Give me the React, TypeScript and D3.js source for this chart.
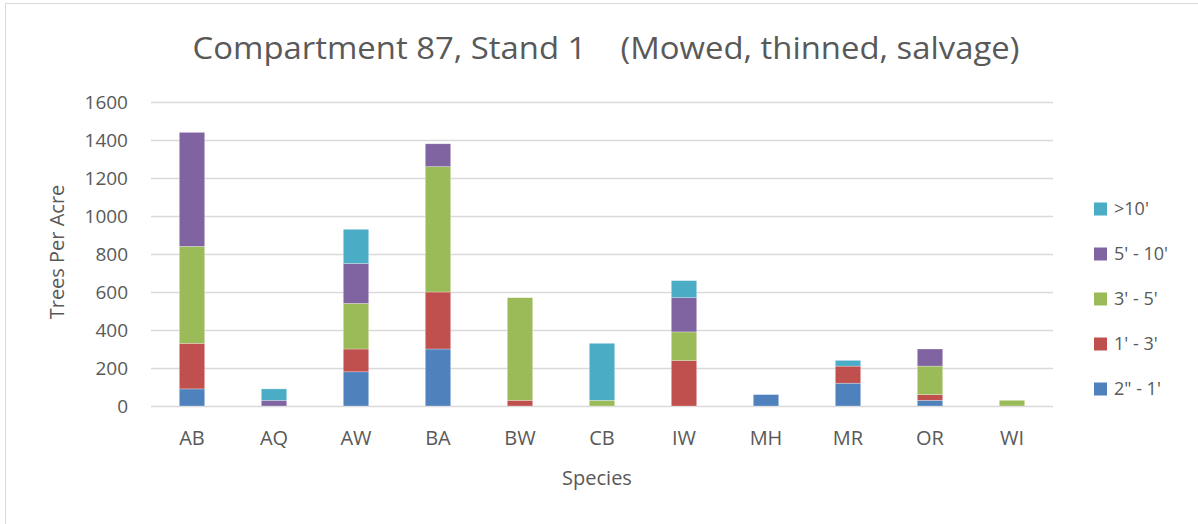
import React from 'react';
import * as d3 from 'd3';

// Species along the x axis
const species = ['AB', 'AQ', 'AW', 'BA', 'BW', 'CB', 'IW', 'MH', 'MR', 'OR', 'WI'];

// Height classes, stacked bottom to top
const classes = ['2" - 1\'', "1' - 3'", "3' - 5'", "5' - 10'", ">10'"];
const colors = ['#4F81BD', '#C0504D', '#9BBB59', '#8064A2', '#4BACC6'];

// Trees per acre per class, one value per species
const small = [90, 0, 180, 300, 0, 0, 0, 60, 120, 30, 0];
const oneToThree = [240, 0, 120, 300, 30, 0, 240, 0, 90, 30, 0];
const threeToFive = [510, 0, 240, 660, 540, 30, 150, 0, 0, 150, 30];
const fiveToTen = [600, 30, 210, 120, 0, 0, 180, 0, 0, 90, 0];
const overTen = [0, 60, 180, 0, 0, 300, 90, 0, 30, 0, 0];

const yTicks = [0, 200, 400, 600, 800, 1000, 1200, 1400, 1600];

const W = 1198;
const H = 524;
const font = "'Open Sans', sans-serif";
const textColor = '#595959';

export default function App() {
  const series = [small, oneToThree, threeToFive, fiveToTen, overTen];
  const rows = species.map((s, i) => {
    const r: any = { species: s };
    classes.forEach((c, k) => (r[c] = series[k][i]));
    return r;
  });
  const stacked = d3.stack().keys(classes)(rows);

  const x = d3.scaleBand().domain(species).range([151, 1053]).paddingInner(0.69).paddingOuter(0.345);
  const y = d3.scaleLinear().domain([0, 1600]).range([406, 102]);

  return (
    <div style={{ position: 'absolute', left: 0, top: 0 }}>
      <svg width={W} height={H} style={{ display: 'block', fontFamily: font }}>
        <rect width={W} height={H} fill="#fff" />
        <line x1={5.5} x2={5.5} y1={3} y2={H} stroke="#d9d9d9" />
        <line x1={5} x2={W} y1={3.5} y2={3.5} stroke="#d9d9d9" />

        <text x={606} y={59} textAnchor="middle" fontSize={31} fill={textColor}
          textLength={827} lengthAdjust="spacingAndGlyphs" style={{ whiteSpace: 'pre' }}>
          {'Compartment 87, Stand 1    (Mowed, thinned, salvage)'}
        </text>

        {yTicks.map((t) => (
          <g key={t}>
            <line x1={151} x2={1053} y1={Math.round(y(t)) + 0.5} y2={Math.round(y(t)) + 0.5}
              stroke="#d9d9d9" strokeWidth={1.3} />
            <text x={128} y={y(t)} dy="0.35em" textAnchor="end" fontSize={19} fill={textColor}>{t}</text>
          </g>
        ))}

        {stacked.map((layer, k) => (
          <g key={layer.key} fill={colors[k]}>
            {layer.map((d, i) => (d[1] - d[0] > 0 ? (
              <rect key={i} x={x(species[i])} width={x.bandwidth()} y={y(d[1])} height={y(d[0]) - y(d[1])}
                stroke="#fff" strokeOpacity={0.45} strokeWidth={0.6} />
            ) : null))}
          </g>
        ))}

        {species.map((s) => (
          <text key={s} x={(x(s) as number) + x.bandwidth() / 2} y={445} textAnchor="middle" fontSize={20} fill={textColor}>{s}</text>
        ))}

        <text x={597} y={485} textAnchor="middle" fontSize={20} fill={textColor}>Species</text>
        <text transform="translate(64,252) rotate(-90)" textAnchor="middle" fontSize={20} fill={textColor}>Trees Per Acre</text>

        {classes.slice().reverse().map((c, j) => {
          const k = classes.length - 1 - j;
          const cy = 209 + j * 45;
          return (
            <g key={c}>
              <rect x={1094} y={cy - 6.5} width={13} height={13} fill={colors[k]} />
              <text x={1114} y={cy} dy="0.35em" fontSize={18} fill={textColor}>{c}</text>
            </g>
          );
        })}
      </svg>
    </div>
  );
}
